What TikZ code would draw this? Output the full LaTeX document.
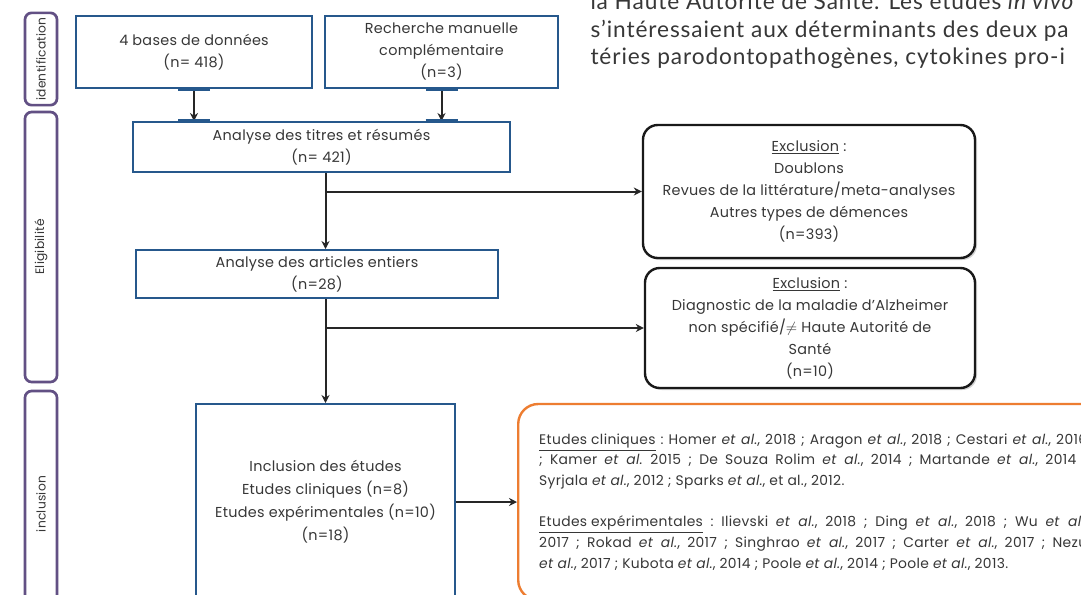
\documentclass[tikz,border=0pt]{standalone}
\usepackage{fontspec}
\setmainfont{Poppins}[LetterSpace=2]
\newfontfamily\pagefont{Lato}[LetterSpace=4]
\newfontfamily\refsfont{Poppins}[LetterSpace=2.5]
\usetikzlibrary{arrows.meta,shadows}

\definecolor{boxblue}{RGB}{38,88,140}
\definecolor{phasepurple}{RGB}{98,80,132}
\definecolor{refsorange}{RGB}{237,125,49}
\definecolor{textgrey}{RGB}{55,55,55}

\tikzset{every picture/.style={line width=0.75pt}}
\tikzset{
  stagebox/.style={draw=boxblue, line width=1.5pt, fill=white, align=center, text=textgrey, inner sep=0pt, font=\fontsize{10.8}{16.5}\selectfont},
  exclbox/.style={draw=black!90, line width=1.8pt, rounded corners=11pt, fill=white, align=center, text=textgrey, inner sep=0pt, font=\fontsize{10.8}{16.5}\selectfont, drop shadow={shadow xshift=1.5pt, shadow yshift=-1.5pt, opacity=0.35}},
  refsbox/.style={draw=refsorange, line width=1.8pt, rounded corners=15pt, fill=white, align=justify, text=textgrey, inner xsep=15.75pt, inner ysep=0pt, font=\refsfont\fontsize{10.4}{15.5}\selectfont\frenchspacing, drop shadow={shadow xshift=1.5pt, shadow yshift=-1.5pt, opacity=0.3}},
  phase/.style={draw=phasepurple, line width=2pt, rounded corners=5pt, fill=white, rotate=90, minimum height=24pt, text=textgrey, font=\fontsize{9.2}{11}\selectfont, drop shadow={shadow xshift=0.8pt, shadow yshift=-0.8pt, opacity=0.25}},
  flow/.style={draw=black!85, line width=1.5pt, -{Stealth[length=6pt,width=6pt]}},
  handle/.style={draw=boxblue, line width=2.5pt},
  pagetext/.style={anchor=base west, inner sep=0pt, text=textgrey, font=\pagefont\fontsize{17}{20}\selectfont},
}

\begin{document}
\begin{tikzpicture}[x=0.75pt,y=0.75pt,yscale=-1,xscale=1]
\useasboundingbox (0,0) rectangle (1081,594);
\fill[white] (0,0) rectangle (1081,594);
\clip (0,0) rectangle (1081,594);

% Text Node
\node[pagetext] (page1) at (590,9) {la Haute Autorité de Santé. Les études \textit{in vivo}};
% Text Node
\node[pagetext] (page2) at (590,37) {s’intéressaient aux déterminants des deux pa};
% Text Node
\node[pagetext] (page3) at (590,64) {téries parodontopathogènes, cytokines pro-i};

%Shape: phase labels
\node[phase, minimum width=66pt] (ident) at (41,59) {identification};
\node[phase, minimum width=202.5pt] (eligib) at (41,247) {Eligibilité};
\node[phase, minimum width=169.5pt] (inclu) at (41,504) {inclusion};

%Shape: Rectangle
\node[stagebox, minimum width=177pt, minimum height=54pt] (bases) at (194,52) {4 bases de données\\(n= 418)};
%Shape: Rectangle
\node[stagebox, minimum width=174.75pt, minimum height=54pt] (manuelle) at (441.5,52) {Recherche manuelle\\complémentaire\\(n=3)};
%Shape: Rectangle
\node[stagebox, minimum width=282.75pt, minimum height=37.5pt] (titres) at (321.5,147) {Analyse des titres et résumés\\(n= 421)};
%Shape: Rectangle
\node[stagebox, minimum width=271.5pt, minimum height=36pt] (articles) at (317,274) {Analyse des articles entiers\\(n=28)};
%Shape: Rectangle
\node[stagebox, minimum width=194.25pt, minimum height=147pt, font=\fontsize{10.8}{17.25}\selectfont] (inclusion) at (325.5,502) {Inclusion des études\\Etudes cliniques (n=8)\\Etudes expérimentales (n=10)\\(n=18)};

%Shape: Rounded Rectangle
\node[exclbox, minimum width=249pt, minimum height=99.75pt] (exclu1) at (809,191.5) {\underline{Exclusion} :\\Doublons\\Revues de la littérature/meta-analyses\\Autres types de démences\\(n=393)};
%Shape: Rounded Rectangle
\node[exclbox, minimum width=247.5pt, minimum height=90pt] (exclu2) at (810,328) {\underline{Exclusion} :\\Diagnostic de la maladie d’Alzheimer\\non spécifié/$\neq$ Haute Autorité de\\Santé\\(n=10)};

%Shape: Rounded Rectangle
\node[refsbox, text width=411pt, minimum height=147pt, anchor=west] (refs) at (517,502) {\underline{Etudes cliniques} : Homer \textit{et al.}, 2018 ; Aragon \textit{et al.}, 2018 ; Cestari \textit{et al.}, 2016\linebreak
; Kamer \textit{et al.} 2015 ; De Souza Rolim \textit{et al.}, 2014 ; Martande \textit{et al.}, 2014 ;\linebreak
Syrjala \textit{et al.}, 2012 ; Sparks \textit{et al.}, et al., 2012.\\[15.5pt]
\underline{Etudes expérimentales} : Ilievski \textit{et al.}, 2018 ; Ding \textit{et al.}, 2018 ; Wu \textit{et al.},\linebreak
2017 ; Rokad \textit{et al.}, 2017 ; Singhrao \textit{et al.}, 2017 ; Carter \textit{et al.}, 2017 ; Nezu\linebreak
\textit{et al.}, 2017 ; Kubota \textit{et al.}, 2014 ; Poole \textit{et al.}, 2014 ; Poole \textit{et al.}, 2013.};

%Straight Lines
\draw[flow] (bases.south) -- (bases.south |- titres.north);
\draw[flow] (manuelle.south) -- (manuelle.south |- titres.north);
\draw[flow] (titres.south -| inclusion.north) -- (articles.north -| inclusion.north);
\draw[flow] (inclusion.north |- exclu1.west) -- (exclu1.west);
\draw[flow] (articles.south -| inclusion.north) -- (inclusion.north);
\draw[flow] (inclusion.north |- exclu2.west) -- (exclu2.west);
\draw[flow] (inclusion.east) -- (refs.west);

%Connector handles
\draw[handle] ([xshift=-12pt]bases.south) -- ([xshift=12pt]bases.south);
\draw[handle] ([xshift=-12pt]manuelle.south) -- ([xshift=12pt]manuelle.south);
\draw[handle] ([xshift=-12pt]bases.south |- titres.north) -- ([xshift=12pt]bases.south |- titres.north);
\draw[handle] ([xshift=-12pt]manuelle.south |- titres.north) -- ([xshift=12pt]manuelle.south |- titres.north);

\end{tikzpicture}
\end{document}
